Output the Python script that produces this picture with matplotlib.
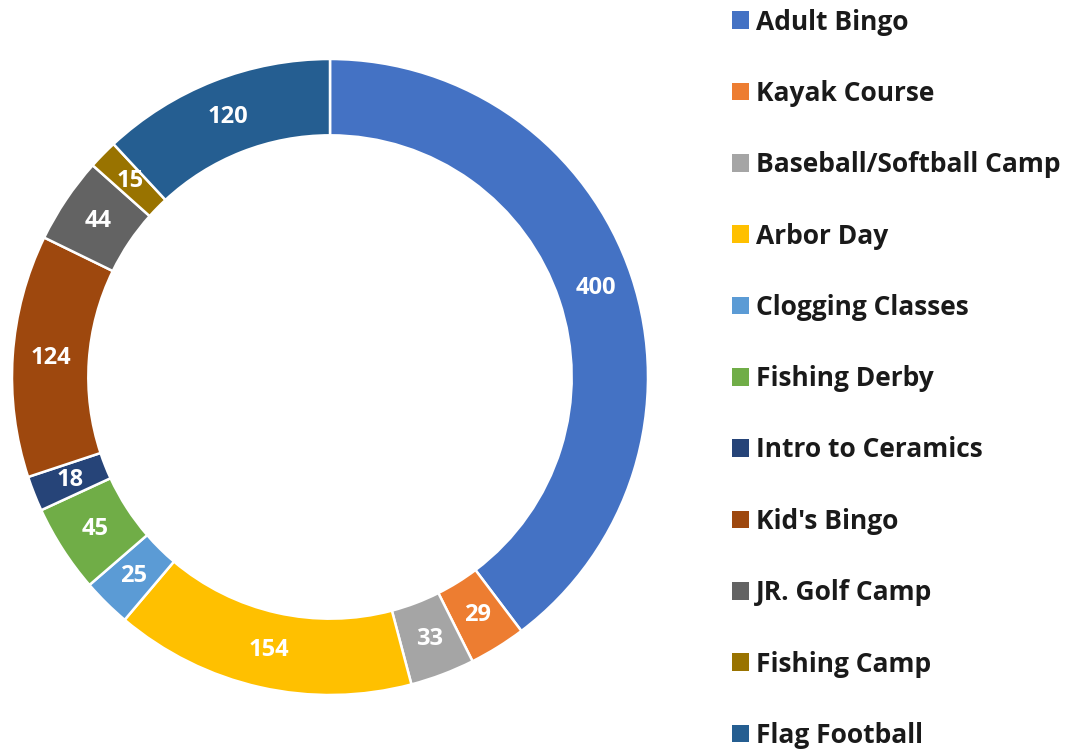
import matplotlib
matplotlib.use('Agg')
import matplotlib.pyplot as plt

plt.rcParams['font.family'] = ['Open Sans', 'DejaVu Sans']

# 活动报名人数
events = ['Adult Bingo', 'Kayak Course', 'Baseball/Softball Camp', 'Arbor Day',
          'Clogging Classes', 'Fishing Derby', 'Intro to Ceramics', "Kid's Bingo",
          'JR. Golf Camp', 'Fishing Camp', 'Flag Football']
counts = [400, 29, 33, 154, 25, 45, 18, 124, 44, 15, 120]
colors = ['#4472C4', '#ED7D31', '#A5A5A5', '#FFC000', '#5B9BD5', '#70AD47',
          '#264478', '#9E480E', '#636363', '#997300', '#255E91']

fig = plt.figure(figsize=(10.8, 7.54), dpi=100)
W, H = 1080, 754
cx, cy, R = 330, 754 - 377, 318
ax = fig.add_axes([(cx - R) / W, (cy - R) / H, 2 * R / W, 2 * R / H])

wedges, texts = ax.pie(counts, colors=colors, startangle=90, counterclock=False,
                       radius=1.0, labels=[str(c) for c in counts],
                       labeldistance=0.88,
                       wedgeprops=dict(width=0.24, edgecolor='white', linewidth=1.8),
                       textprops=dict(color='white', fontsize=17, fontweight='bold',
                                      ha='center', va='center'))
for t in texts:
    t.set_horizontalalignment('center')
ax.set_xlim(-1, 1)
ax.set_ylim(-1, 1)
ax.set_aspect('equal')

leg = fig.legend(wedges, events, loc='upper left', bbox_to_anchor=(732 / W, 1 - 8.5 / H),
                 frameon=False, prop=dict(family='Open Sans', weight='bold', size=19),
                 handlelength=0.65, handleheight=0.65, handletextpad=0.26,
                 labelspacing=1.68, borderaxespad=0, borderpad=0)
for t in leg.get_texts():
    t.set_color('#1a1a1a')
for h in leg.legend_handles:
    h.set_linewidth(0)

fig.savefig('out.png', dpi=100)
